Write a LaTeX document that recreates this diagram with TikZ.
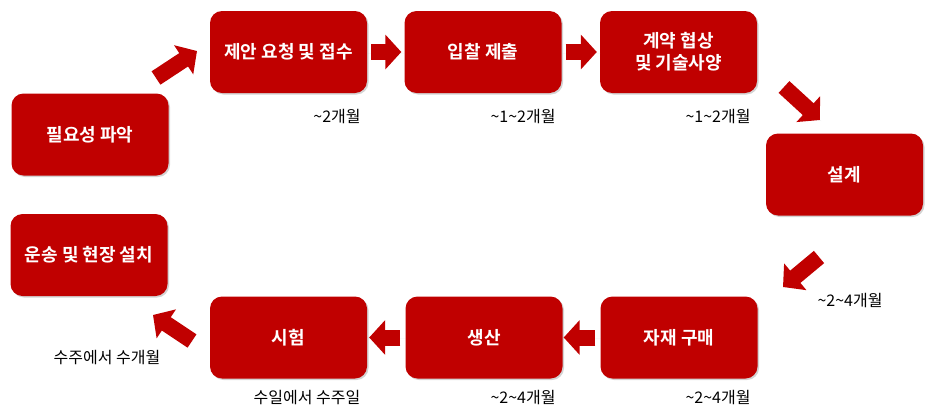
\documentclass[tikz,border=0pt]{standalone}
\usepackage{fontspec}
\newfontfamily\kr{Noto Sans CJK KR}
\newfontfamily\krb{Noto Sans CJK KR}[BoldFont={* Bold}]
\usetikzlibrary{arrows.meta,shadows}
\definecolor{boxred}{HTML}{C00000}
\tikzset{
  stepbox/.style={fill=boxred, rounded corners=12pt, minimum width=157pt, minimum height=82pt,
    inner sep=0pt, text=white, font=\krb\fontsize{18}{22}\selectfont\bfseries, align=center,
    drop shadow={opacity=0.35, shadow xshift=1.5pt, shadow yshift=-1.5pt}},
  blockarrow/.style={draw=boxred, line width=16pt, line cap=butt,
    -{Triangle[width=34pt,length=16pt]},
    drop shadow={opacity=0.3, shadow xshift=1pt, shadow yshift=-1pt}},
  dur/.style={font=\kr\fontsize{16}{19}\selectfont, text=black, inner sep=0pt}
}
\begin{document}
\begin{tikzpicture}[x=1pt,y=-1pt]
\useasboundingbox (0,0) rectangle (927,410);
\node[stepbox] (b1) at (90,134.5) {필요성 파악};
\node[stepbox] (b2) at (288.5,52) {제안 요청 및 접수};
\node[stepbox] (b3) at (483,52) {입찰 제출};
\node[stepbox] (b4) at (678.5,52) {계약 협상\\및 기술사양};
\node[stepbox] (b5) at (844.5,174.5) {설계};
\node[stepbox] (b6) at (89,255) {운송 및 현장 설치};
\node[stepbox] (b7) at (288.5,337.5) {시험};
\node[stepbox] (b8) at (484,337.5) {생산};
\node[stepbox] (b9) at (679,337.5) {자재 구매};

\coordinate (a12s) at (156,78);  \coordinate (a12e) at (197,51);
\coordinate (a45s) at (784,87);  \coordinate (a45e) at (820,120);
\coordinate (a59s) at (819,257); \coordinate (a59e) at (783,287);
\coordinate (a76s) at (192,341); \coordinate (a76e) at (153,315);

\draw[blockarrow] (a12s) -- (a12e);
\draw[blockarrow, shorten <=4pt, shorten >=3pt] (b2.east) -- (b3.west);
\draw[blockarrow, shorten <=4pt, shorten >=3pt] (b3.east) -- (b4.west);
\draw[blockarrow] (a45s) -- (a45e);
\draw[blockarrow] (a59s) -- (a59e);
\draw[blockarrow, shorten <=5pt, shorten >=1pt] (b9.west) -- (b8.east);
\draw[blockarrow, shorten <=5pt, shorten >=2pt] (b8.west) -- (b7.east);
\draw[blockarrow] (a76s) -- (a76e);

\node[dur] (l1) at (337,117) {\textasciitilde 2개월};
\node[dur] (l2) at (523,117) {\textasciitilde 1\textasciitilde 2개월};
\node[dur] (l3) at (718,117) {\textasciitilde 1\textasciitilde 2개월};
\node[dur] (l4) at (850,301) {\textasciitilde 2\textasciitilde 4개월};
\node[dur] (l5) at (718,398) {\textasciitilde 2\textasciitilde 4개월};
\node[dur] (l6) at (523,398) {\textasciitilde 2\textasciitilde 4개월};
\node[dur] (l7) at (307,398) {수일에서 수주일};
\node[dur] (l8) at (107,358) {수주에서 수개월};
\end{tikzpicture}
\end{document}
